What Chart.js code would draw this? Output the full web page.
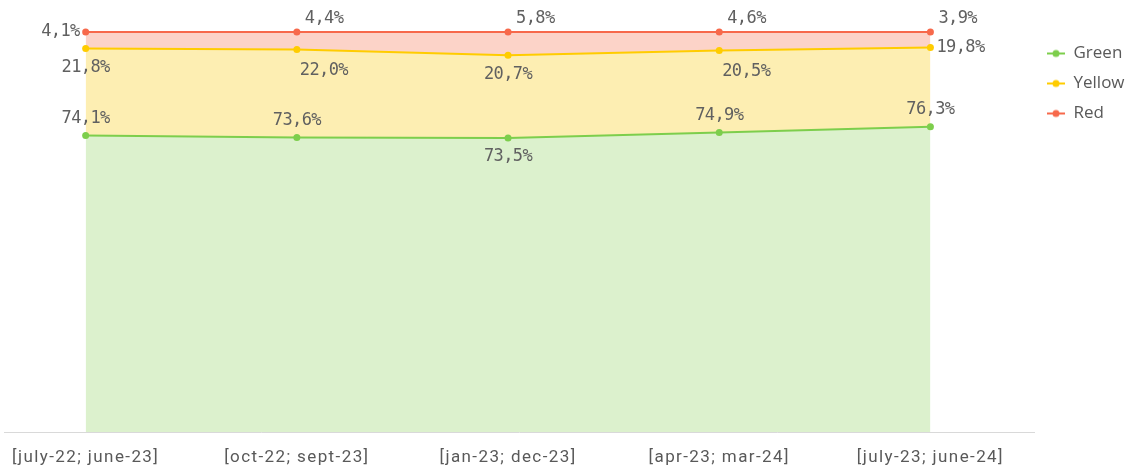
<!DOCTYPE html>
<html>
<head>
<meta charset="utf-8">
<script src="https://cdn.jsdelivr.net/npm/chart.js@4/dist/chart.umd.min.js"></script>
<style>
    html, body { margin: 0; padding: 0; background: #fff; }
    #wrap { width: 1127px; height: 469px; position: relative; }
</style>
</head>
<body>
<div id="wrap"><canvas id="chart"></canvas></div>
<script>
// Data
const periods = ['[july-22; june-23]', '[oct-22; sept-23]', '[jan-23; dec-23]', '[apr-23; mar-24]', '[july-23; june-24]'];
const greenShare = [74.1, 73.6, 73.5, 74.9, 76.3];
const yellowShare = [21.8, 22.0, 20.7, 20.5, 19.8];
const redShare = [4.1, 4.4, 5.8, 4.6, 3.9];

// where each value label sits relative to its point
const greenLabelPos = ['above', 'above', 'below', 'above', 'above'];
const yellowLabelPos = ['below', 'belowRight', 'below', 'belowRight', 'right'];
const redLabelPos = ['left', 'aboveRight', 'aboveRight', 'aboveRight', 'aboveRight'];

const textColor = '#595959';

function toPoints(values) {
    return values.map((v, i) => ({ x: i, y: v }));
}

// little line-with-dot marker for the legend
function legendMarker(color) {
    const c = document.createElement('canvas');
    c.width = 18;
    c.height = 10;
    const g = c.getContext('2d');
    g.strokeStyle = color;
    g.lineWidth = 2;
    g.beginPath();
    g.moveTo(0, 5);
    g.lineTo(18, 5);
    g.stroke();
    g.fillStyle = color;
    g.beginPath();
    g.arc(9, 5, 3.5, 0, Math.PI * 2);
    g.fill();
    return c;
}

const valueLabels = {
    id: 'valueLabels',
    afterDatasetsDraw(chart) {
        const ctx = chart.ctx;
        ctx.save();
        ctx.font = '17px "DejaVu Sans Mono"';
        ctx.letterSpacing = '-0.6px';
        ctx.fillStyle = '#606060';
        chart.data.datasets.forEach((ds, di) => {
            const meta = chart.getDatasetMeta(di);
            meta.data.forEach((pt, i) => {
                const text = ds.data[i].y.toFixed(1).replace('.', ',') + '%';
                const pos = ds.labelPos[i];
                let x = pt.x;
                let y = pt.y;
                ctx.textBaseline = 'middle';
                ctx.textAlign = 'center';
                if (pos === 'above') {
                    y -= 17;
                } else if (pos === 'below') {
                    y += 19;
                } else if (pos === 'belowRight') {
                    x += 27;
                    y += 21;
                } else if (pos === 'right') {
                    ctx.textAlign = 'left';
                    x += 6;
                } else if (pos === 'left') {
                    ctx.textAlign = 'right';
                    x -= 6;
                } else if (pos === 'aboveRight') {
                    ctx.textAlign = 'left';
                    x += 8;
                    y -= 13;
                }
                ctx.fillText(text, x, y);
            });
        });
        ctx.restore();
        // the category labels (ticks.z = 1) are drawn next, a bit more spaced out
        ctx.letterSpacing = '1.4px';
    },
    afterDraw(chart) {
        chart.ctx.letterSpacing = '0px';
    }
};

const series = [
    { label: 'Green', values: greenShare, pos: greenLabelPos, line: '#7dce4c', fill: '#dcf1cd', fillTo: 'origin' },
    { label: 'Yellow', values: yellowShare, pos: yellowLabelPos, line: '#ffcc00', fill: '#fdeeb2', fillTo: '-1' },
    { label: 'Red', values: redShare, pos: redLabelPos, line: '#f7694b', fill: '#fcd3c8', fillTo: '-1' }
];

const ctx = document.getElementById('chart').getContext('2d');

new Chart(ctx, {
    type: 'line',
    data: {
        datasets: series.map(s => ({
            label: s.label,
            data: toPoints(s.values),
            labelPos: s.pos,
            borderColor: s.line,
            backgroundColor: s.fill,
            pointBackgroundColor: s.line,
            pointBorderWidth: 0,
            pointRadius: 3.5,
            borderWidth: 2,
            tension: 0,
            clip: false,
            fill: s.fillTo
        }))
    },
    options: {
        responsive: true,
        maintainAspectRatio: false,
        animation: false,
        layout: {
            padding: { top: 32, bottom: 0, left: 0, right: 0 }
        },
        plugins: {
            tooltip: { enabled: false },
            legend: {
                display: true,
                position: 'right',
                align: 'start',
                maxWidth: 93,
                labels: {
                    color: textColor,
                    usePointStyle: true,
                    pointStyleWidth: 18,
                    padding: 13,
                    font: { family: '"Open Sans"', size: 17 },
                    generateLabels: chart => chart.data.datasets.map((ds, i) => ({
                        text: ds.label,
                        pointStyle: legendMarker(ds.borderColor),
                        fillStyle: ds.borderColor,
                        strokeStyle: ds.borderColor,
                        lineWidth: 0,
                        fontColor: textColor,
                        hidden: false,
                        datasetIndex: i
                    }))
                }
            }
        },
        scales: {
            x: {
                type: 'linear',
                min: -0.3867,
                max: 4.4905,
                afterBuildTicks: scale => {
                    scale.ticks = periods.map((_, i) => ({ value: i }));
                },
                afterFit: scale => {
                    scale.height = 37;
                    scale.paddingLeft = 0;
                    scale.paddingRight = 0;
                },
                ticks: {
                    color: textColor,
                    padding: 16,
                    z: 1,
                    maxRotation: 0,
                    autoSkip: false,
                    font: { family: 'Roboto', size: 17 },
                    callback: value => periods[value]
                },
                grid: { display: false, drawTicks: false },
                border: { display: true, color: '#d9d9d9', width: 1 }
            },
            y: {
                display: false,
                stacked: true,
                min: 0,
                max: 100
            }
        }
    },
    plugins: [valueLabels]
});
</script>
</body>
</html>
